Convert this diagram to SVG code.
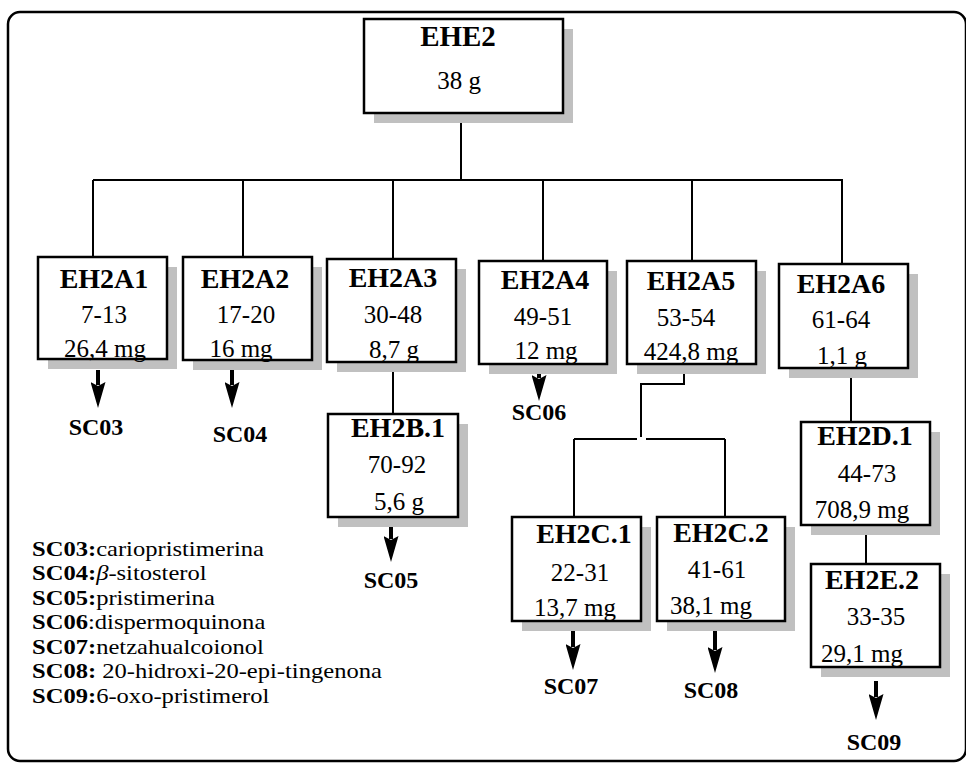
<svg xmlns="http://www.w3.org/2000/svg" width="966" height="764" viewBox="0 0 966 764" font-family="'Liberation Serif', 'DejaVu Serif', serif">
<style>
.frame{fill:none;stroke:#000;stroke-width:2.5}
.box{fill:#fff;stroke:#000;stroke-width:2.5}
.sh{fill:#c0c0c0}
.ln{fill:none;stroke:#000;stroke-width:2}
.ar{fill:none;stroke:#000;stroke-width:4}
.t{font-size:28px;font-weight:bold;text-anchor:middle}
.n{font-size:25px;text-anchor:middle}
.sc{font-size:24px;font-weight:bold;text-anchor:middle}
.lg{font-size:21px}
.b{font-weight:bold}
</style>
<defs>
<marker id="ah" markerUnits="userSpaceOnUse" markerWidth="26" markerHeight="15" viewBox="0 0 26 15" refX="3" refY="7.5" orient="auto">
<path d="M0,0 L26,7.5 L0,15 L4,7.5 z" fill="#000"/>
</marker>
</defs>
<rect class="frame" x="8" y="12" width="958" height="749" rx="12"/>

<g id="connectors">
<path class="ln" d="M461,113 V180 M93,180 H843 M93,180 V257 M243,180 V257 M393,180 V259 M543,180 V261 M692,180 V261 M842,180 V264"/>
<path class="ln" d="M393,362 V414"/>
<path class="ln" d="M684,364 V384 H641 V437 M574,439 H637 M646,439 H725 M574,439 V517 M725,439 V517"/>
<path class="ln" d="M851,368 V422 M866,525 V564"/>
<line class="ar" x1="98" y1="370" x2="98" y2="385" marker-end="url(#ah)"/>
<line class="ar" x1="232" y1="367" x2="232" y2="385" marker-end="url(#ah)"/>
<line class="ar" x1="391" y1="520" x2="391" y2="539" marker-end="url(#ah)"/>
<line class="ar" x1="539" y1="368" x2="539" y2="378" marker-end="url(#ah)"/>
<line class="ar" x1="573" y1="625" x2="573" y2="647" marker-end="url(#ah)"/>
<line class="ar" x1="715" y1="629" x2="715" y2="650" marker-end="url(#ah)"/>
<line class="ar" x1="876" y1="681" x2="876" y2="697" marker-end="url(#ah)"/>
</g>

<g id="EHE2">
<rect class="sh" x="374" y="29" width="199" height="94"/>
<rect class="box" x="364" y="19" width="199" height="94"/>
<text class="t" x="458" y="46" style="font-size:29px">EHE2</text>
<text class="n" x="459" y="89">38 g</text>
</g>

<g id="EH2A1">
<rect class="sh" x="48" y="267" width="129" height="102"/>
<rect class="box" x="38" y="257" width="129" height="102"/>
<text class="t" x="104" y="288">EH2A1</text>
<text class="n" x="104" y="323">7-13</text>
<text class="n" x="105" y="357">26,4 mg</text>
</g>
<g id="EH2A2">
<rect class="sh" x="193" y="267" width="129" height="103"/>
<rect class="box" x="183" y="257" width="129" height="103"/>
<text class="t" x="245" y="288">EH2A2</text>
<text class="n" x="246" y="323">17-20</text>
<text class="n" x="241" y="357">16 mg</text>
</g>
<g id="EH2A3">
<rect class="sh" x="337" y="269" width="129" height="103"/>
<rect class="box" x="327" y="259" width="129" height="103"/>
<text class="t" x="393" y="287">EH2A3</text>
<text class="n" x="393" y="323">30-48</text>
<text class="n" x="394" y="358">8,7 g</text>
</g>
<g id="EH2A4">
<rect class="sh" x="489" y="271" width="128" height="103"/>
<rect class="box" x="479" y="261" width="128" height="103"/>
<text class="t" x="545" y="289">EH2A4</text>
<text class="n" x="543" y="325">49-51</text>
<text class="n" x="546" y="359">12 mg</text>
</g>
<g id="EH2A5">
<rect class="sh" x="637" y="271" width="129" height="103"/>
<rect class="box" x="627" y="261" width="129" height="103"/>
<text class="t" x="691" y="290">EH2A5</text>
<text class="n" x="686" y="326">53-54</text>
<text class="n" x="691" y="360">424,8 mg</text>
</g>
<g id="EH2A6">
<rect class="sh" x="789" y="274" width="129" height="104"/>
<rect class="box" x="779" y="264" width="129" height="104"/>
<text class="t" x="841" y="293">EH2A6</text>
<text class="n" x="841" y="328">61-64</text>
<text class="n" x="842" y="364">1,1 g</text>
</g>
<g id="EH2B.1">
<rect class="sh" x="338" y="424" width="130" height="103"/>
<rect class="box" x="328" y="414" width="130" height="103"/>
<text class="t" x="398" y="437">EH2B.1</text>
<text class="n" x="397" y="473">70-92</text>
<text class="n" x="399" y="510">5,6 g</text>
</g>
<g id="EH2C.1">
<rect class="sh" x="522" y="527" width="129" height="104"/>
<rect class="box" x="512" y="517" width="129" height="104"/>
<text class="t" x="584" y="543">EH2C.1</text>
<text class="n" x="580" y="581">22-31</text>
<text class="n" x="575" y="616">13,7 mg</text>
</g>
<g id="EH2C.2">
<rect class="sh" x="667" y="527" width="128" height="104"/>
<rect class="box" x="657" y="517" width="128" height="104"/>
<text class="t" x="721" y="542">EH2C.2</text>
<text class="n" x="717" y="578">41-61</text>
<text class="n" x="711" y="614">38,1 mg</text>
</g>
<g id="EH2D.1">
<rect class="sh" x="811" y="432" width="129" height="103"/>
<rect class="box" x="801" y="422" width="129" height="103"/>
<text class="t" x="865" y="445">EH2D.1</text>
<text class="n" x="867" y="482">44-73</text>
<text class="n" x="862" y="518">708,9 mg</text>
</g>
<g id="EH2E.2">
<rect class="sh" x="821" y="574" width="129" height="103"/>
<rect class="box" x="811" y="564" width="129" height="103"/>
<text class="t" x="872" y="589">EH2E.2</text>
<text class="n" x="876" y="625">33-35</text>
<text class="n" x="862" y="662">29,1 mg</text>
</g>

<g id="SC03"><text class="sc" x="96" y="435">SC03</text></g>
<g id="SC04"><text class="sc" x="240" y="442">SC04</text></g>
<g id="SC05"><text class="sc" x="391" y="588">SC05</text></g>
<g id="SC06"><text class="sc" x="539" y="420">SC06</text></g>
<g id="SC07"><text class="sc" x="571" y="694">SC07</text></g>
<g id="SC08"><text class="sc" x="711" y="698">SC08</text></g>
<g id="SC09"><text class="sc" x="874" y="750">SC09</text></g>

<g id="legend" class="lg" transform="translate(32,0) scale(1.17,1)">
<text x="0" y="556"><tspan class="b">SC03:</tspan>cariopristimerina</text>
<text x="0" y="580.5"><tspan class="b">SC04:</tspan><tspan font-style="italic">β</tspan>-sitosterol</text>
<text x="0" y="605"><tspan class="b">SC05:</tspan>pristimerina</text>
<text x="0" y="629.5"><tspan class="b">SC06</tspan>:dispermoquinona</text>
<text x="0" y="654"><tspan class="b">SC07:</tspan>netzahualcoionol</text>
<text x="0" y="678.5"><tspan class="b">SC08:</tspan> 20-hidroxi-20-epi-tingenona</text>
<text x="0" y="703"><tspan class="b">SC09:</tspan>6-oxo-pristimerol</text>
</g>
</svg>
